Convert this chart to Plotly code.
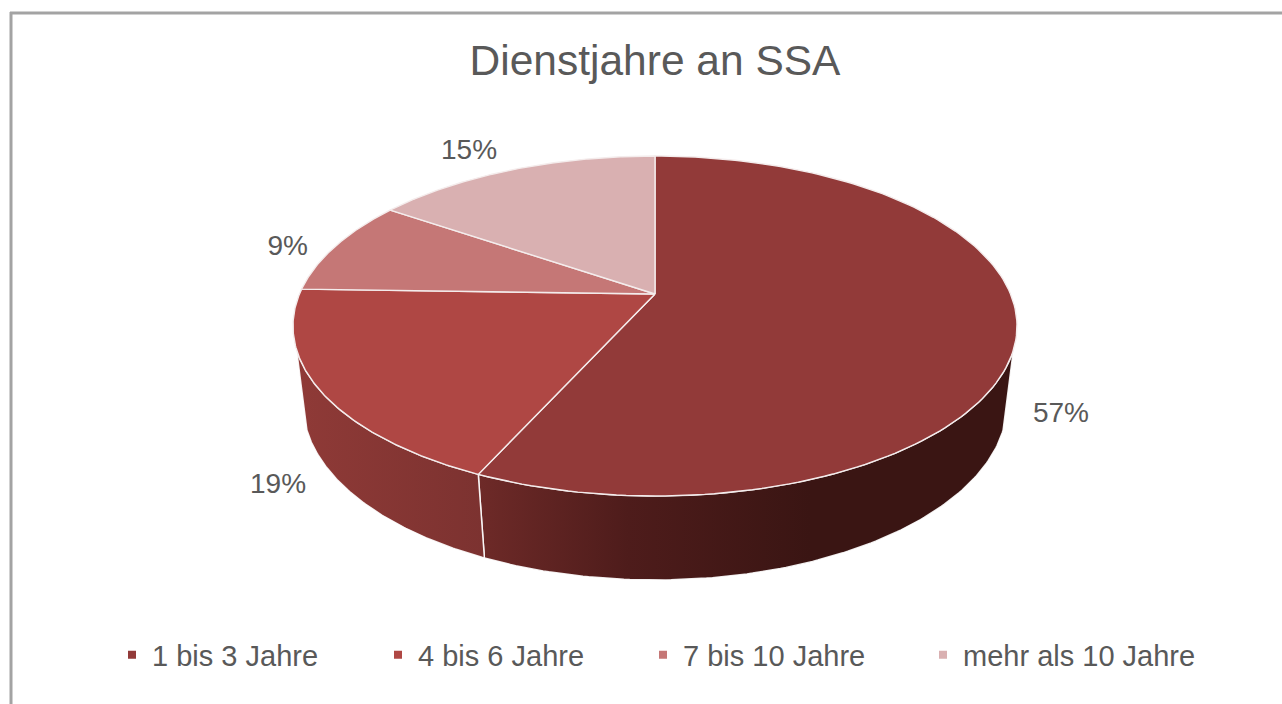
import numpy as np
import plotly.graph_objects as go

categories = ["1 bis 3 Jahre", "4 bis 6 Jahre", "7 bis 10 Jahre", "mehr als 10 Jahre"]
shares = [56.7, 18.7, 9.1, 15.4]
top_colors = ["#923A39", "#AF4744", "#C57776", "#D9B0B1"]
wall_scales = [
    [[0, "#6E2A28"], [0.28, "#4E1C1B"], [0.62, "#3A1513"], [1, "#3A1513"]],
    [[0, "#8F3A37"], [1, "#7C3230"]],
    None,
    None,
]
label_nudges = [(44, 1), (-42, 11), (-48, 2), (-44, -18)]
legend_x = [112, 378, 643, 923]

TEXT = "#595959"
FONT = "Liberation Sans"
W, H = 1282, 704
CX = 655
TOP = dict(cy=326, rx=362, ry=170, k=0.188)
BOTTOM = dict(cy=404, rx=352, ry=176, k=0.18)
WALL_FROM, WALL_TO = 108.7, 251.3
DEPTH = 84


def project(theta_deg, plane, radius=1.0):
    """Perspective projection of a point on the pie disc (clockwise from 12 o'clock)."""
    t = np.radians(theta_deg)
    X, Y = radius * np.sin(t), radius * np.cos(t)
    k, ry = plane["k"], plane["ry"]
    a = plane["rx"] * np.sqrt(1 - k * k)
    d = 1 + k * Y
    return CX + a * X / d, plane["cy"] - (ry * Y + ry * k) / d


edges = np.concatenate([[0], np.cumsum(shares)]) / sum(shares) * 360
fig = go.Figure()

# side walls
for i, scale in enumerate(wall_scales):
    if scale is None:
        continue
    a0, a1 = max(edges[i], WALL_FROM), min(edges[i + 1], WALL_TO)
    th = np.linspace(a0, a1, 120)
    xt, yt = project(th, TOP)
    xb, yb = project(th[::-1], BOTTOM)
    x = np.concatenate([xt, xb, xt[:1]])
    y = np.concatenate([yt, yb, yt[:1]])
    fig.add_trace(go.Scatter(
        x=x, y=y, mode="lines", fill="toself",
        line=dict(color="rgba(255,255,255,0.9)", width=1.5),
        fillgradient=dict(type="horizontal", colorscale=scale,
                          start=float(x.min()), stop=float(x.max())),
        showlegend=False, hoverinfo="skip"))

# top face slices
for i, name in enumerate(categories):
    th = np.linspace(edges[i], edges[i + 1], 160)
    xr, yr = project(th, TOP)
    xc, yc = project(0.0, TOP, 0.0)
    fig.add_trace(go.Scatter(
        x=np.concatenate([[xc], xr, [xc]]), y=np.concatenate([[yc], yr, [yc]]),
        mode="lines", fill="toself", fillcolor=top_colors[i],
        line=dict(color="#F4ECEC", width=1.4),
        name=name, legendgroup=name, showlegend=False, hoverinfo="skip"))

# percentage labels
lx, ly, lt = [], [], []
for i, v in enumerate(shares):
    mid = (edges[i] + edges[i + 1]) / 2
    px, py = project(mid, TOP)
    if 90 <= mid <= 270:
        py += DEPTH
    lx.append(px + label_nudges[i][0])
    ly.append(py + label_nudges[i][1])
    lt.append(f"{round(v)}%")
fig.add_trace(go.Scatter(x=lx, y=ly, text=lt, mode="text", textposition="middle center",
                         textfont=dict(family=FONT, size=28, color=TEXT),
                         showlegend=False, hoverinfo="skip"))

# legend entries, one placed legend each
legends = {}
for i, name in enumerate(categories):
    key = "legend" if i == 0 else f"legend{i + 1}"
    fig.add_trace(go.Scatter(
        x=[None], y=[None], mode="markers", name=name, legend=key,
        marker=dict(symbol="square", size=8, color=top_colors[i])))
    legends[key] = dict(
        x=legend_x[i] / W, xanchor="left", y=1 - 655 / H, yanchor="middle",
        bgcolor="rgba(0,0,0,0)", font=dict(family=FONT, size=29, color=TEXT))

fig.update_layout(
    width=W, height=H, margin=dict(l=0, r=0, t=0, b=0),
    paper_bgcolor="white", plot_bgcolor="white",
    title=dict(text="Dienstjahre an SSA", x=655 / W, xanchor="center",
               y=1 - 60 / H, yanchor="middle",
               font=dict(family=FONT, size=42.5, color=TEXT)),
    xaxis=dict(range=[0, W], visible=False, fixedrange=True),
    yaxis=dict(range=[H, 0], visible=False, fixedrange=True),
    shapes=[
        dict(type="line", x0=11, x1=11, y0=12, y1=H, line=dict(color="#A3A3A3", width=3)),
        dict(type="line", x0=10, x1=W, y0=13, y1=13, line=dict(color="#A3A3A3", width=3)),
    ],
    **legends,
)
fig.write_html("out.html", post_script="document.body.style.margin='0';",
               config={"displayModeBar": False})
